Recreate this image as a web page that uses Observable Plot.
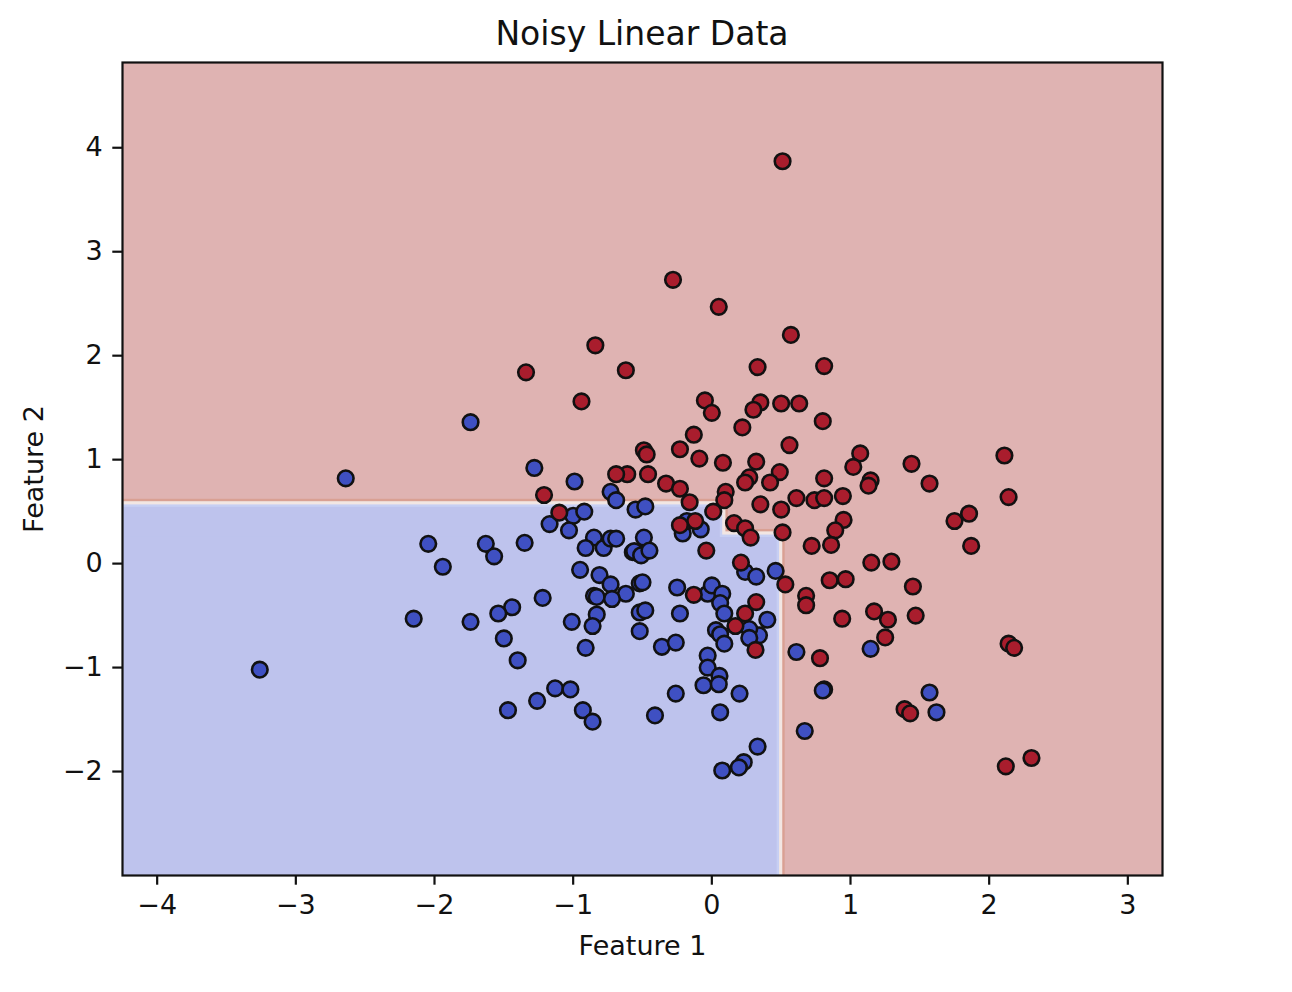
<!DOCTYPE html>
<html>
<head>
<meta charset="utf-8">
<script src="https://cdn.jsdelivr.net/npm/d3@7"></script>
<script src="https://cdn.jsdelivr.net/npm/@observablehq/plot@0.6"></script>
<style>
  body { margin: 0; background: white; }
  #title { box-sizing: border-box; height: 50px; padding-top: 17px; margin-left: 122px; width: 1040px;
           text-align: center; font-family: "DejaVu Sans", sans-serif; font-size: 33px; line-height: 33px; color: #111; }
</style>
</head>
<body>
<div id="title">Noisy Linear Data</div>
<div id="chart"></div>
<script>
// ---- data ----
const titleText = "Noisy Linear Data";
const xLabel = "Feature 1";
const yLabel = "Feature 2";
const xTicks = [-4, -3, -2, -1, 0, 1, 2, 3];
const yTicks = [-2, -1, 0, 1, 2, 3, 4];
const xDomain = [-4.25, 3.25];
const yDomain = [-3.0, 4.82];

// decision-tree boundary thresholds
const splitX = 0.5;
const splitY = 0.58;
const notchX = 0.09;
const notchY = 0.29;

// class 0 (blue) points
const class0 = [
  [-2.64, 0.82], [-2.045, 0.19], [-1.94, -0.03], [-2.15, -0.53], [-3.26, -1.02],
  [-1.74, 1.36], [-1.28, 0.92], [-0.99, 0.79], [-0.73, 0.69], [-0.69, 0.61],
  [-0.55, 0.52], [-0.48, 0.55], [-1.00, 0.46], [-0.92, 0.50], [-1.17, 0.38],
  [-1.03, 0.32], [-0.85, 0.25], [-0.91, 0.15], [-0.78, 0.15], [-0.73, 0.24],
  [-0.69, 0.24], [-0.57, 0.11], [-0.53, 0.10], [-1.63, 0.19], [-1.57, 0.07],
  [-1.35, 0.20], [-0.95, -0.06], [-0.81, -0.11], [-0.73, -0.20], [-0.62, -0.29],
  [-0.85, -0.31], [-0.83, -0.32], [-0.72, -0.34], [-0.52, -0.19], [-1.22, -0.33],
  [-1.44, -0.42], [-1.54, -0.48], [-1.74, -0.56], [-1.01, -0.56], [-0.83, -0.49],
  [-0.86, -0.60], [-0.52, -0.47], [-0.52, -0.65], [-1.50, -0.72], [-0.91, -0.81],
  [-1.40, -0.93], [-1.13, -1.20], [-1.02, -1.21], [-1.26, -1.32], [-1.47, -1.41],
  [-0.93, -1.41], [-0.86, -1.52], [-0.21, 0.29], [-0.18, 0.41], [-0.08, 0.33],
  [-0.49, 0.25], [-0.56, 0.12], [-0.51, 0.08], [-0.45, 0.125], [-0.50, -0.18],
  [-0.48, -0.45], [-0.25, -0.23], [-0.23, -0.48], [-0.03, -0.29], [0.00, -0.21],
  [0.075, -0.29], [0.06, -0.38], [0.09, -0.48], [0.24, -0.08], [0.32, -0.125],
  [0.46, -0.07], [0.40, -0.54], [-0.36, -0.80], [-0.26, -0.76], [0.03, -0.64],
  [0.06, -0.68], [0.09, -0.77], [0.34, -0.69], [0.27, -0.63], [0.27, -0.715],
  [-0.03, -0.885], [-0.03, -1.00], [0.055, -1.08], [-0.06, -1.17], [0.05, -1.16],
  [-0.26, -1.25], [0.20, -1.25], [-0.41, -1.46], [0.06, -1.43], [0.33, -1.76],
  [0.23, -1.91], [0.195, -1.96], [0.075, -1.99], [0.61, -0.85], [0.67, -1.61],
  [1.145, -0.82], [0.81, -1.21], [0.80, -1.22], [1.57, -1.24], [1.62, -1.43]
];

// class 1 (red) points
const class1 = [
  [0.51, 3.87], [-0.28, 2.73], [0.05, 2.47], [0.57, 2.20], [-0.84, 2.10],
  [-0.62, 1.86], [-1.34, 1.84], [0.33, 1.89], [0.81, 1.90], [-0.94, 1.56],
  [-0.05, 1.57], [0.00, 1.45], [0.35, 1.55], [0.30, 1.48], [0.50, 1.54],
  [0.63, 1.54], [0.80, 1.37], [0.22, 1.31], [-0.13, 1.24], [0.56, 1.14],
  [-0.49, 1.09], [-0.47, 1.05], [-0.23, 1.10], [-0.09, 1.01], [0.08, 0.97],
  [0.32, 0.98], [0.49, 0.88], [0.42, 0.78], [0.27, 0.83], [0.24, 0.78],
  [-0.61, 0.86], [-0.69, 0.86], [-0.46, 0.86], [-0.33, 0.77], [-0.23, 0.72],
  [-0.16, 0.59], [0.10, 0.69], [0.09, 0.61], [0.01, 0.50], [0.35, 0.57],
  [0.61, 0.63], [0.74, 0.61], [0.81, 0.63], [0.945, 0.65], [0.50, 0.52],
  [0.51, 0.30], [0.16, 0.39], [0.24, 0.34], [0.28, 0.25], [-0.12, 0.41],
  [-0.23, 0.37], [-0.04, 0.125], [0.21, 0.01], [0.53, -0.20], [0.68, -0.31],
  [0.68, -0.40], [-0.13, -0.30], [0.32, -0.37], [0.24, -0.48], [0.72, 0.17],
  [0.17, -0.60], [0.315, -0.83], [-1.21, 0.66], [-1.10, 0.49], [1.07, 1.06],
  [1.02, 0.93], [1.44, 0.96], [2.11, 1.04], [1.57, 0.77], [2.14, 0.64],
  [1.145, 0.80], [1.13, 0.75], [0.81, 0.82], [0.95, 0.42], [0.89, 0.32],
  [0.86, 0.18], [1.855, 0.48], [1.75, 0.41], [1.87, 0.17], [1.15, 0.01],
  [1.295, 0.02], [0.85, -0.16], [0.965, -0.15], [1.45, -0.22], [0.94, -0.53],
  [1.17, -0.46], [1.27, -0.54], [1.47, -0.50], [1.25, -0.71], [0.78, -0.91],
  [1.39, -1.40], [1.43, -1.44], [2.14, -0.77], [2.18, -0.81], [2.12, -1.95],
  [2.305, -1.87]
];

// blue decision region (union of two overlapping rectangles, extending past the frame)
const blueRegions = [
  {x1: -6, x2: notchX, y1: -5, y2: splitY},
  {x1: -6, x2: splitX, y1: -5, y2: notchY}
];

const minus = d => (d < 0 ? "\u2212" + (-d) : String(d));
const rectOpts = {x1: "x1", x2: "x2", y1: "y1", y2: "y2", clip: true};

const chart = Plot.plot({
  width: 1292,
  height: 942,
  marginTop: 12,
  marginLeft: 122,
  marginRight: 130,
  marginBottom: 117,
  style: {fontFamily: "DejaVu Sans, sans-serif", fontSize: "27px", color: "#111", background: "white", overflow: "visible"},
  x: {domain: xDomain, ticks: xTicks, label: null},
  y: {domain: yDomain, ticks: yTicks, label: null},
  marks: [
    Plot.frame({fill: "#dfb3b2", stroke: null}),
    Plot.rect(blueRegions, {...rectOpts, fill: "#d9a093", inset: -4}),
    Plot.rect(blueRegions, {...rectOpts, fill: "#f2e6e3", inset: -1.6}),
    Plot.rect(blueRegions, {...rectOpts, fill: "#c7cff3", inset: 1.6}),
    Plot.rect(blueRegions, {...rectOpts, fill: "#bec3ed", inset: 4}),
    Plot.dot(class0, {x: d => d[0], y: d => d[1], r: 7.8, fill: "#3f50c2", stroke: "#111", strokeWidth: 2.6}),
    Plot.dot(class1, {x: d => d[0], y: d => d[1], r: 7.8, fill: "#a91d2d", stroke: "#111", strokeWidth: 2.6}),
    Plot.frame({stroke: "#111", strokeWidth: 2.2}),
    Plot.axisX({ticks: xTicks, tickSize: 9.7, tickPadding: 10, tickFormat: minus, fontSize: 27, strokeWidth: 2.2, label: null}),
    Plot.axisY({ticks: yTicks, tickSize: 9.7, tickPadding: 10, tickFormat: minus, fontSize: 27, strokeWidth: 2.2, label: null}),
    Plot.text([xLabel], {frameAnchor: "bottom", dy: 79, lineAnchor: "bottom", textAnchor: "middle", fontSize: 27, fill: "#111"}),
    Plot.text([yLabel], {frameAnchor: "left", dx: -80, rotate: -90, lineAnchor: "bottom", textAnchor: "middle", fontSize: 27, fill: "#111"})
  ]
});
document.getElementById("title").textContent = titleText;
document.getElementById("chart").appendChild(chart);
</script>
</body>
</html>
